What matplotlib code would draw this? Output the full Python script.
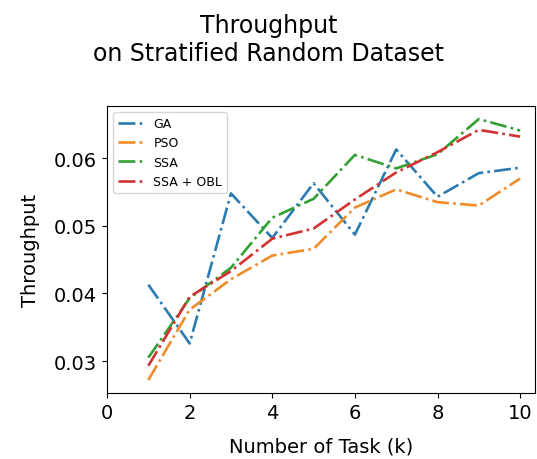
import numpy as np
import matplotlib.pyplot as plt

tasks = [1, 2, 3, 4, 5, 6, 7, 8, 9, 10]
ga = [0.0413, 0.0326, 0.0548, 0.0482, 0.0563, 0.0487, 0.0613, 0.0543, 0.0578, 0.0586]
pso = [0.0272, 0.0376, 0.0421, 0.0456, 0.0466, 0.0527, 0.0554, 0.0535, 0.0530, 0.0570]
ssa = [0.0305, 0.0393, 0.0438, 0.0512, 0.0540, 0.0605, 0.0585, 0.0606, 0.0658, 0.0641]
ssa_obl = [0.0293, 0.0395, 0.0433, 0.0481, 0.0496, 0.0539, 0.0579, 0.0609, 0.0642, 0.0632]

fig = plt.figure(figsize=(5.37, 4.6), dpi=100)
ax = fig.add_axes([0.1993, 0.1435, 0.797, 0.6239])

# dash-dot lines, slightly muted tab colours
ax.plot(tasks, ga, '-.', color='#2b7bb0', lw=1.9, label='GA')
ax.plot(tasks, pso, '-.', color='#f08c2a', lw=1.9, label='PSO')
ax.plot(tasks, ssa, '-.', color='#33a033', lw=1.9, label='SSA')
ax.plot(tasks, ssa_obl, '-.', color='#d33232', lw=1.9, label='SSA + OBL')

ax.set_xlim(0, 10.36)
ax.set_xticks([0, 2, 4, 6, 8, 10])
ax.set_yticks([0.03, 0.04, 0.05, 0.06])
ax.tick_params(labelsize=14)
ax.set_xlabel("Number of Task (k)", fontsize=14, labelpad=11)
ax.set_ylabel("Throughput", fontsize=14, labelpad=10)
ax.legend(loc='upper left', fontsize=9)

fig.suptitle("Throughput\non Stratified Random Dataset", fontsize=17, y=0.97)

fig.savefig("out.png", dpi=100)
